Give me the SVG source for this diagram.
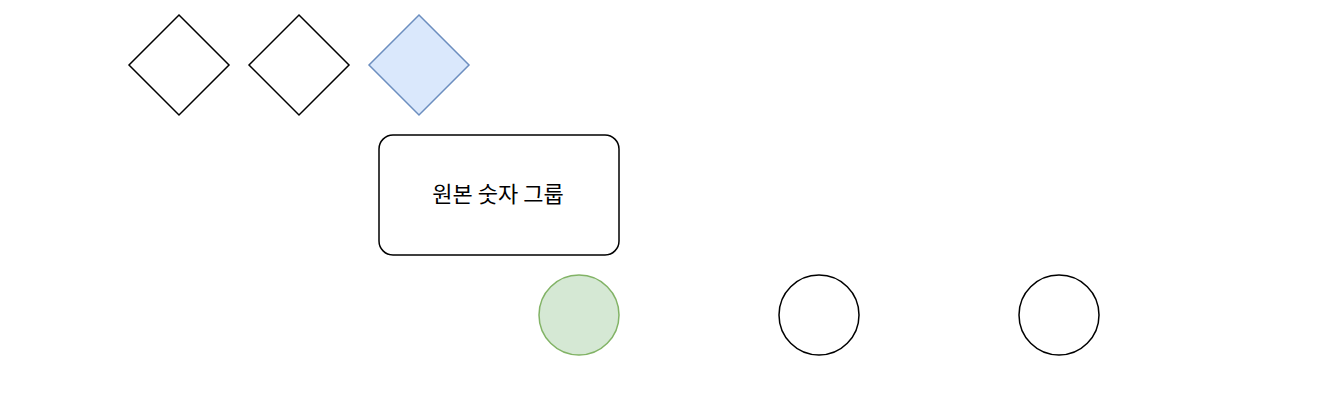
<svg xmlns="http://www.w3.org/2000/svg" width="1318" height="402" viewBox="0 0 1318 402">
<style>
.shape{fill:#ffffff;stroke:#000000;stroke-width:1.5}
.blue{fill:#dae8fc;stroke:#6c8ebf;stroke-width:1.5}
.green{fill:#d5e8d4;stroke:#82b366;stroke-width:1.5}
.label{font-family:"Noto Sans CJK KR","Liberation Sans",sans-serif;font-size:22px;fill:#000000;text-anchor:middle;dominant-baseline:central}
</style>
<rect width="1318" height="402" fill="#ffffff"/>
<g id="diamond1"><polygon class="shape" points="179,15 229,65 179,115 129,65"/></g>
<g id="diamond2"><polygon class="shape" points="299,15 349,65 299,115 249,65"/></g>
<g id="diamond3"><polygon class="blue" points="419,15 469,65 419,115 369,65"/></g>
<g id="group"><rect class="shape" x="379" y="135" width="240" height="120" rx="14" ry="14"/><text class="label" x="498" y="192">원본 숫자 그룹</text></g>
<g id="circle1"><circle class="green" cx="579" cy="315" r="40"/></g>
<g id="circle2"><circle class="shape" cx="819" cy="315" r="40"/></g>
<g id="circle3"><circle class="shape" cx="1059" cy="315" r="40"/></g>
<g id="connectors"></g>
</svg>
